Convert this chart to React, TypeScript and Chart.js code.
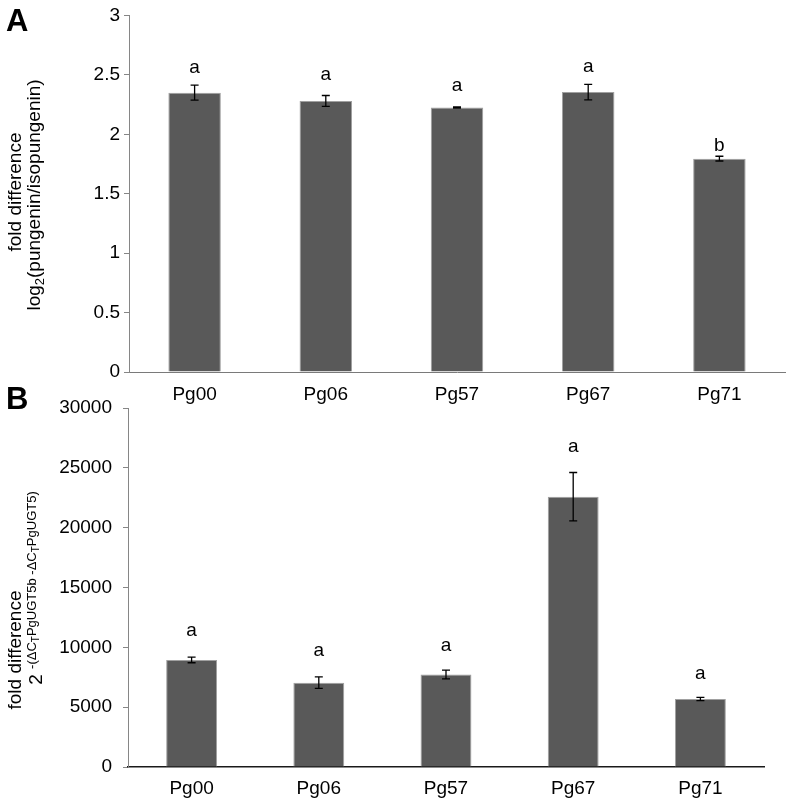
import React, { useEffect, useRef } from "react";
import { Chart, registerables } from "chart.js";

Chart.register(...registerables);

const categories = ["Pg00", "Pg06", "Pg57", "Pg67", "Pg71"];

// Panel A
const ratioValues = [2.35, 2.28, 2.225, 2.355, 1.795];
const ratioErrors = [0.063, 0.046, 0.005, 0.065, 0.02];
const ratioLetters = ["a", "a", "a", "a", "b"];
const ratioLetterPos = [2.56, 2.5, 2.41, 2.57, 1.9];
const ratioMin = 0;
const ratioMax = 3;
const ratioStep = 0.5;

// Panel B
const exprValues = [8950, 7050, 7730, 22590, 5680];
const exprErrors = [240, 480, 370, 2020, 140];
const exprLetters = ["a", "a", "a", "a", "a"];
const exprLetterPos = [11365, 9693, 10153, 26741, 7772];
const exprMin = 0;
const exprMax = 30000;
const exprStep = 5000;

const FONT = "'Liberation Sans', Arial, sans-serif";
const FS = 19;

type Seg = { t: string; size: number; dy: number };

type PanelProps = {
  top: number;
  height: number;
  values: number[];
  errors: number[];
  letters: string[];
  letterPos: number[];
  min: number;
  max: number;
  step: number;
  padTop: number;
  padRight: number;
  yWidth: number;
  xHeight: number;
  yTickPad: number;
  xTickPad: number;
  xBorderColor: string;
  xBorderWidth: number;
  panelLetter: string;
  panelLetterY: number;
  title1Pos: [number, number];
  title2Pos: [number, number];
  title2: Seg[];
};

function drawSegs(ctx: CanvasRenderingContext2D, x: number, y: number, segs: Seg[]) {
  ctx.save();
  ctx.translate(x, y);
  ctx.rotate(-Math.PI / 2);
  ctx.textBaseline = "alphabetic";
  ctx.textAlign = "left";
  let total = 0;
  const widths = segs.map((s) => {
    ctx.font = `${s.size}px ${FONT}`;
    const w = ctx.measureText(s.t).width;
    total += w;
    return w;
  });
  let cx = -total / 2;
  segs.forEach((s, i) => {
    ctx.font = `${s.size}px ${FONT}`;
    ctx.fillText(s.t, cx, s.dy);
    cx += widths[i];
  });
  ctx.restore();
}

function Panel(p: PanelProps) {
  const ref = useRef<HTMLCanvasElement | null>(null);
  useEffect(() => {
    if (!ref.current) return;
    const overlay = {
      id: "overlay",
      afterDatasetsDraw(chart: any) {
        const ctx = chart.ctx as CanvasRenderingContext2D;
        const meta = chart.getDatasetMeta(0);
        const ys = chart.scales.y;
        ctx.save();
        ctx.strokeStyle = "#000";
        ctx.lineWidth = 1.3;
        meta.data.forEach((bar: any, i: number) => {
          const x = bar.x;
          const yTop = ys.getPixelForValue(p.values[i] + p.errors[i]);
          const yBot = ys.getPixelForValue(p.values[i] - p.errors[i]);
          ctx.beginPath();
          ctx.moveTo(x, yTop);
          ctx.lineTo(x, yBot);
          ctx.moveTo(x - 4, yTop);
          ctx.lineTo(x + 4, yTop);
          ctx.moveTo(x - 4, yBot);
          ctx.lineTo(x + 4, yBot);
          ctx.stroke();
          ctx.fillStyle = "#000";
          ctx.font = `${FS}px ${FONT}`;
          ctx.textAlign = "center";
          ctx.textBaseline = "middle";
          ctx.fillText(p.letters[i], x, ys.getPixelForValue(p.letterPos[i]));
        });
        ctx.restore();
      },
      afterDraw(chart: any) {
        const ctx = chart.ctx as CanvasRenderingContext2D;
        ctx.save();
        ctx.fillStyle = "#000";
        ctx.font = `bold 31px ${FONT}`;
        ctx.textAlign = "left";
        ctx.textBaseline = "alphabetic";
        ctx.fillText(p.panelLetter, 6, p.panelLetterY);
        drawSegs(ctx, p.title1Pos[0], p.title1Pos[1], [{ t: "fold difference", size: FS, dy: 0 }]);
        drawSegs(ctx, p.title2Pos[0], p.title2Pos[1], p.title2);
        ctx.restore();
      },
    };
    const chart = new Chart(ref.current, {
      type: "bar",
      data: {
        labels: categories,
        datasets: [
          {
            data: p.values,
            backgroundColor: "#595959",
            borderColor: "#a0a0a0",
            borderWidth: 1,
            barPercentage: 0.4,
            categoryPercentage: 1,
          },
        ],
      },
      options: {
        animation: false,
        responsive: false,
        maintainAspectRatio: false,
        layout: { padding: { top: p.padTop, right: p.padRight, left: 0, bottom: 0 } },
        plugins: { legend: { display: false }, tooltip: { enabled: false } },
        scales: {
          x: {
            grid: { display: false, drawTicks: false },
            border: { display: true, color: p.xBorderColor, width: p.xBorderWidth },
            ticks: { color: "#000", font: { family: FONT, size: FS }, padding: p.xTickPad, maxRotation: 0 },
            afterFit: (s: any) => {
              s.height = p.xHeight;
            },
          },
          y: {
            min: p.min,
            max: p.max,
            ticks: {
              stepSize: p.step,
              color: "#000",
              font: { family: FONT, size: FS },
              padding: p.yTickPad,
              callback: (v: any) => String(v),
            },
            grid: { display: true, drawOnChartArea: false, drawTicks: true, tickLength: 5, color: "#868686" },
            border: { display: true, color: "#868686", width: 1 },
            afterFit: (s: any) => {
              s.width = p.yWidth;
            },
          },
        },
      } as any,
      plugins: [overlay],
    });
    return () => chart.destroy();
  }, []);
  return (
    <canvas
      ref={ref}
      width={789}
      height={p.height}
      style={{ position: "absolute", left: 0, top: p.top, width: 789, height: p.height }}
    />
  );
}

export default function App() {
  return (
    <div style={{ position: "fixed", left: 0, top: 0, width: 789, height: 803, background: "#fff" }}>
      <Panel
        top={0}
        height={410}
        values={ratioValues}
        errors={ratioErrors}
        letters={ratioLetters}
        letterPos={ratioLetterPos}
        min={ratioMin}
        max={ratioMax}
        step={ratioStep}
        padTop={11}
        padRight={4}
        yWidth={129}
        xHeight={38}
        yTickPad={4}
        xTickPad={11}
        xBorderColor="#7a7a7a"
        xBorderWidth={1}
        panelLetter="A"
        panelLetterY={31}
        title1Pos={[21, 192]}
        title2Pos={[40, 195]}
        title2={[
          { t: "log", size: FS, dy: 0 },
          { t: "2", size: 13, dy: 4 },
          { t: "(pungenin/isopungenin)", size: FS, dy: 0 },
        ]}
      />
      <Panel
        top={380}
        height={423}
        values={exprValues}
        errors={exprErrors}
        letters={exprLetters}
        letterPos={exprLetterPos}
        min={exprMin}
        max={exprMax}
        step={exprStep}
        padTop={28}
        padRight={25}
        yWidth={128}
        xHeight={36}
        yTickPad={11}
        xTickPad={10}
        xBorderColor="#1a1a1a"
        xBorderWidth={1.5}
        panelLetter="B"
        panelLetterY={29}
        title1Pos={[21, 270]}
        title2Pos={[42, 208]}
        title2={[
          { t: "2 ", size: FS, dy: 0 },
          { t: "-(ΔC", size: 13, dy: -6 },
          { t: "T", size: 10, dy: -3 },
          { t: "PgUGT5b -ΔC", size: 13, dy: -6 },
          { t: "T", size: 10, dy: -3 },
          { t: "PgUGT5)", size: 13, dy: -6 },
        ]}
      />
    </div>
  );
}
